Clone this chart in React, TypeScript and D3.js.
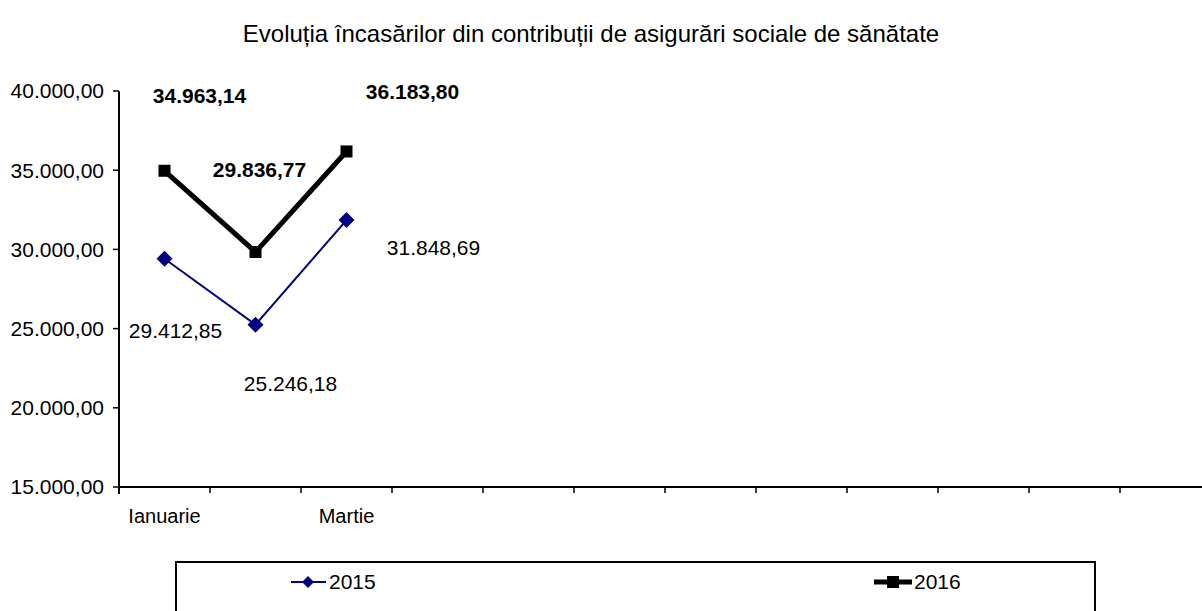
import React from 'react';
import * as d3 from 'd3';

const months = ['Ianuarie', 'Februarie', 'Martie', '', '', '', '', '', '', '', '', ''];
const shownLabels = ['Ianuarie', 'Martie'];
const values2015 = [29412.85, 25246.18, 31848.69];
const values2016 = [34963.14, 29836.77, 36183.8];
const yTicks = [15000, 20000, 25000, 30000, 35000, 40000];

// manual label placement, like the original sheet (dx, dy from the point)
const labelOffsets2015 = [[11, 72], [35, 59], [87, 28]];
const labelOffsets2016 = [[35, -75], [4, -82], [66, -60]];

const fmt = (v: number) => {
  const [i, d] = v.toFixed(2).split('.');
  return i.replace(/\B(?=(\d{3})+(?!\d))/g, '.') + ',' + d;
};

const App: React.FC = () => {
  const width = 1202;
  const height = 611;
  const font = 'Liberation Sans, Arial, sans-serif';
  const fs = 21;

  const x = d3.scaleBand().domain(months.map((m, i) => String(i))).range([119, 1211]);
  const y = d3.scaleLinear().domain([15000, 40000]).range([487, 91]);
  const cx = (i: number) => (x(String(i)) || 0) + x.bandwidth() / 2;

  const line = d3
    .line<number>()
    .x((_, i) => cx(i))
    .y((d) => y(d));

  const diamond = (px: number, py: number, r: number) =>
    `M${px},${py - r}L${px + r},${py}L${px},${py + r}L${px - r},${py}Z`;

  return (
    <svg width={width} height={height} style={{ display: 'block', position: 'absolute', left: 0, top: 0 }}>
      <rect x={0} y={0} width={width} height={height} fill="#fff" />
      <text x={591} y={34} dy="0.35em" textAnchor="middle" fontFamily={font} fontSize={24} fill="#000">
        Evoluția încasărilor din contribuții de asigurări sociale de sănătate
      </text>

      {/* y axis */}
      <line x1={119} x2={119} y1={y(40000)} y2={y(15000) + 7} stroke="#000" strokeWidth={2} />
      {yTicks.map((t) => (
        <g key={t}>
          <line x1={113} x2={119} y1={y(t)} y2={y(t)} stroke="#000" strokeWidth={1.5} />
          <text x={104} y={y(t)} dy="0.35em" textAnchor="end" fontFamily={font} fontSize={fs}>
            {fmt(t)}
          </text>
        </g>
      ))}

      {/* x axis */}
      <line x1={119} x2={1211} y1={487} y2={487} stroke="#000" strokeWidth={2} />
      {months.map((m, i) => (
        <line key={i} x1={(x(String(i)) || 0) + x.bandwidth()} x2={(x(String(i)) || 0) + x.bandwidth()} y1={487} y2={493} stroke="#000" strokeWidth={1.5} />
      ))}
      {months.map((m, i) =>
        shownLabels.includes(m) ? (
          <text key={m} x={cx(i)} y={516} dy="0.35em" textAnchor="middle" fontFamily={font} fontSize={20}>
            {m}
          </text>
        ) : null
      )}

      {/* 2015 */}
      <path d={line(values2015) || ''} fill="none" stroke="#000080" strokeWidth={2} />
      {values2015.map((v, i) => (
        <path key={i} d={diamond(cx(i), y(v), 8)} fill="#000080" />
      ))}
      {values2015.map((v, i) => (
        <text key={i} x={cx(i) + labelOffsets2015[i][0]} y={y(v) + labelOffsets2015[i][1]} dy="0.35em" textAnchor="middle" fontFamily={font} fontSize={fs}>
          {fmt(v)}
        </text>
      ))}

      {/* 2016 */}
      <path d={line(values2016) || ''} fill="none" stroke="#000" strokeWidth={5} />
      {values2016.map((v, i) => (
        <rect key={i} x={cx(i) - 6} y={y(v) - 6} width={12} height={12} fill="#000" />
      ))}
      {values2016.map((v, i) => (
        <text key={i} x={cx(i) + labelOffsets2016[i][0]} y={y(v) + labelOffsets2016[i][1]} dy="0.35em" textAnchor="middle" fontFamily={font} fontSize={fs} fontWeight="bold">
          {fmt(v)}
        </text>
      ))}

      {/* legend */}
      <rect x={176} y={562} width={919} height={70} fill="none" stroke="#000" strokeWidth={2} />
      <line x1={291} x2={326} y1={582} y2={582} stroke="#000080" strokeWidth={2} />
      <path d={diamond(308, 582, 6)} fill="#000080" />
      <text x={329} y={582} dy="0.35em" fontFamily={font} fontSize={fs}>2015</text>
      <line x1={874} x2={912} y1={582} y2={582} stroke="#000" strokeWidth={5} />
      <rect x={887} y={576} width={12} height={12} fill="#000" />
      <text x={914} y={582} dy="0.35em" fontFamily={font} fontSize={fs}>2016</text>
    </svg>
  );
};

export default App;
